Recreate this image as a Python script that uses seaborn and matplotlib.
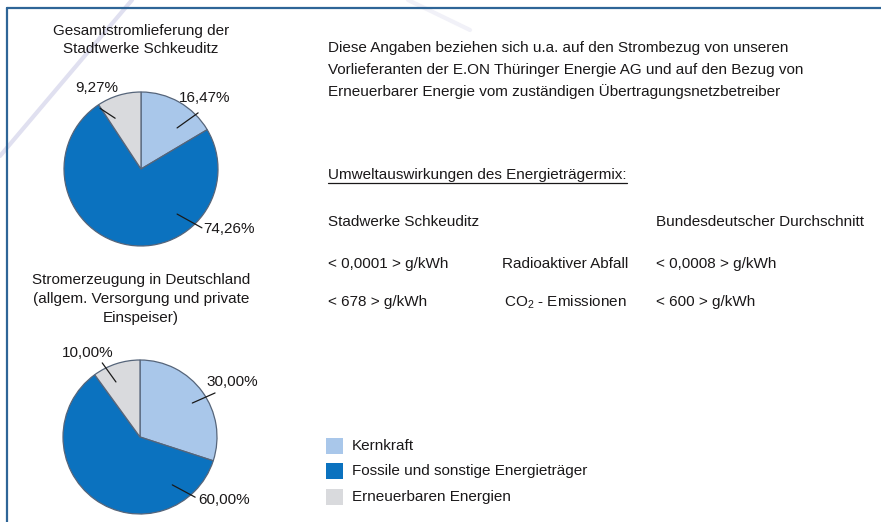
import numpy as np
import matplotlib
matplotlib.use("Agg")
import matplotlib.pyplot as plt
from matplotlib.lines import Line2D
from matplotlib.patches import Rectangle
import seaborn as sns

# ---------------- data ----------------
categories = ["Kernkraft", "Fossile und sonstige Energieträger", "Erneuerbaren Energien"]
werke_values = [16.47, 74.26, 9.27]
werke_labels = ["16,47%", "74,26%", "9,27%"]
de_values = [30.00, 60.00, 10.00]
de_labels = ["30,00%", "60,00%", "10,00%"]
title_werke = "Gesamtstromlieferung der\nStadtwerke Schkeuditz"
title_de = "Stromerzeugung in Deutschland\n(allgem. Versorgung und private\nEinspeiser)"
intro_text = ["Diese Angaben beziehen sich u.a. auf den Strombezug von unseren",
              "Vorlieferanten der E.ON Thüringer Energie AG und auf den Bezug von",
              "Erneuerbarer Energie vom zuständigen Übertragungsnetzbetreiber"]
env_heading = "Umweltauswirkungen des Energieträgermix:"
col_left = "Stadwerke Schkeuditz"
col_right = "Bundesdeutscher Durchschnitt"
row_names = ["Radioaktiver Abfall", r"CO$_\mathregular{2}$ - Emissionen"]
werke_emissions = ["< 0,0001 > g/kWh", "< 678 > g/kWh"]
de_emissions = ["< 0,0008 > g/kWh", "< 600 > g/kWh"]

# ---------------- style ----------------
sns.set_theme(style="white")
plt.rcParams["font.family"] = ["Liberation Sans", "DejaVu Sans"]
plt.rcParams["mathtext.fontset"] = "custom"
plt.rcParams["mathtext.rm"] = "Liberation Sans"
plt.rcParams["mathtext.it"] = "Liberation Sans:italic"
plt.rcParams["mathtext.bf"] = "Liberation Sans:bold"

colors = ["#a9c7ea", "#0b72bf", "#d9dadd"]
txt_color = "#1a1819"
FS = 11

W, H = 881, 522
fig = plt.figure(figsize=(W / 100, H / 100), dpi=100)
fig.patch.set_facecolor("white")


def fx(x):
    return x / W


def fy(y):
    return 1 - y / H


# faint watermark strokes
fig.add_artist(Line2D([fx(0), fx(132)], [fy(156), fy(0)], color="#e0e0f0", lw=3, zorder=0))
fig.add_artist(Line2D([fx(408), fx(470)], [fy(0), fy(30)], color="#f1f1f8", lw=3, zorder=0))

# border (top + left)
fig.add_artist(Line2D([fx(7), fx(881)], [fy(8), fy(8)], color="#2e6597", lw=1.6, zorder=1))
fig.add_artist(Line2D([fx(7), fx(7)], [fy(8), fy(522)], color="#2e6597", lw=1.6, zorder=1))

R = 77


def draw_pie(cx, cy, values, labels, label_geo):
    ax = fig.add_axes([fx(cx - R), fy(cy + R), 2 * R / W, 2 * R / H])
    ax.pie(values, colors=colors, startangle=90, counterclock=False, radius=1,
           wedgeprops=dict(edgecolor="#56657a", linewidth=0.9))
    ax.set_xlim(-1, 1)
    ax.set_ylim(-1, 1)
    ax.set_aspect("equal")
    ax.axis("off")
    for lab, (ang_in, r_in, ang_out, r_out, ang_t, r_t) in zip(labels, label_geo):
        a1, a2, a3 = np.deg2rad([ang_in, ang_out, ang_t])
        ax.plot([r_in * np.cos(a1), r_out * np.cos(a2)], [r_in * np.sin(a1), r_out * np.sin(a2)],
                color="#1a1a1a", lw=0.9, clip_on=False)
        ax.text(r_t * np.cos(a3), r_t * np.sin(a3), lab, ha="center", va="center",
                fontsize=FS, color=txt_color, clip_on=False)
    return ax


# label geometry: (angle_in, r_in, angle_out, r_out, angle_text, r_text)
geo_werke = [(48.7, 0.71, 44.5, 1.04, 48.0, 1.24),
             (-51.3, 0.75, -44.0, 1.10, -34.3, 1.38),
             (117.0, 0.74, 124.0, 0.95, 118.5, 1.20)]
geo_de = [(33.0, 0.81, 30.4, 1.13, 30.9, 1.39),
          (-56.0, 0.75, -47.5, 1.06, -36.9, 1.36),
          (113.6, 0.78, 117.0, 1.08, 121.8, 1.28)]

draw_pie(141, 169, werke_values, werke_labels, geo_werke)
draw_pie(140, 437, de_values, de_labels, geo_de)

# titles
fig.text(fx(141), fy(40), title_werke, ha="center", va="center", fontsize=FS,
         color=txt_color, linespacing=1.45)
fig.text(fx(141), fy(299), title_de, ha="center", va="center", fontsize=FS,
         color=txt_color, linespacing=1.45)

# intro text
for i, line in enumerate(intro_text):
    fig.text(fx(328), fy(48 + 22 * i), line, ha="left", va="center", fontsize=FS, color=txt_color)

# heading with underline
head = fig.text(fx(328), fy(175), env_heading, ha="left", va="center", fontsize=FS, color=txt_color)
fig.canvas.draw()
bb = head.get_window_extent()
fig.add_artist(Line2D([bb.x0 / W, bb.x1 / W], [(bb.y0 - 1.5) / H, (bb.y0 - 1.5) / H],
                      color=txt_color, lw=0.9))

fig.text(fx(328), fy(222), col_left, ha="left", va="center", fontsize=FS, color=txt_color)
fig.text(fx(656), fy(222), col_right, ha="left", va="center", fontsize=FS, color=txt_color)
row_y = [264, 302]
for y, wv, nm, dv in zip(row_y, werke_emissions, row_names, de_emissions):
    fig.text(fx(328), fy(y), wv, ha="left", va="center", fontsize=FS, color=txt_color)
    fig.text(fx(565), fy(y), nm, ha="center", va="center", fontsize=FS, color=txt_color)
    fig.text(fx(656), fy(y), dv, ha="left", va="center", fontsize=FS, color=txt_color)

# legend
leg_y = [446, 471, 497]
for y, c, cat in zip(leg_y, colors, categories):
    fig.add_artist(Rectangle((fx(326), fy(y + 8)), 17 / W, 16 / H, facecolor=c, edgecolor="none",
                             transform=fig.transFigure))
    fig.text(fx(352), fy(y), cat, ha="left", va="center", fontsize=FS, color=txt_color)

fig.savefig("out.png", dpi=100, facecolor="white")
